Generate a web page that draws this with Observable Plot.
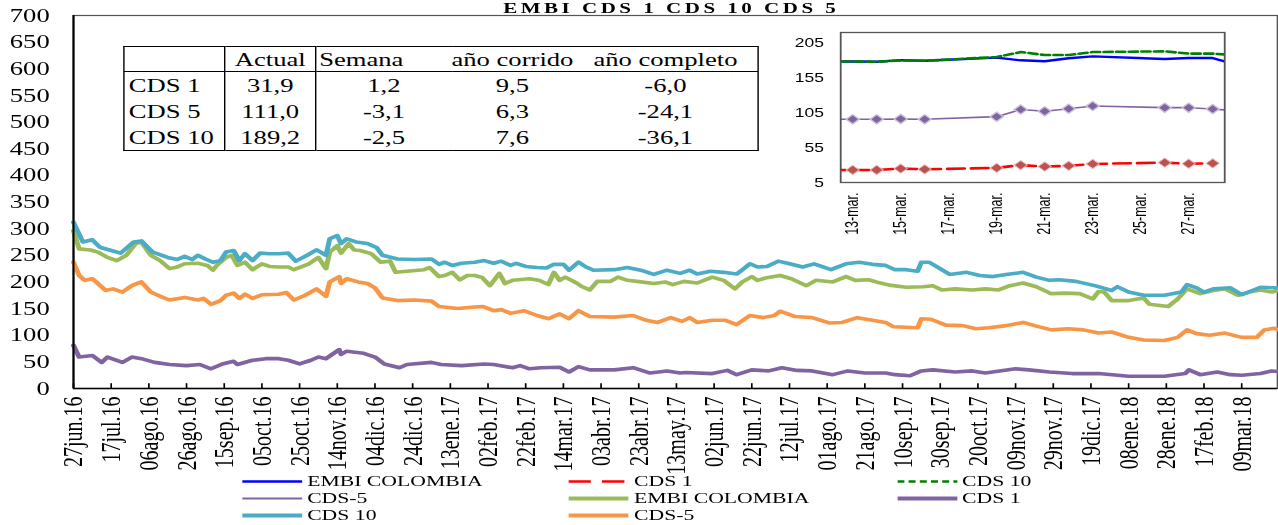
<!DOCTYPE html>
<html><head><meta charset="utf-8">
<script src="https://cdn.jsdelivr.net/npm/d3@7"></script>
<script src="https://cdn.jsdelivr.net/npm/@observablehq/plot@0.6"></script>
<style>
html,body{margin:0;padding:0;background:#fff;overflow:hidden;}
#stage{position:relative;width:913px;height:525px;transform:scaleX(1.4);transform-origin:0 0;font-family:"Liberation Serif","Times New Roman",serif;color:#000;}
#main{position:absolute;left:0;top:0;}
#title{position:absolute;left:0;width:959px;top:1px;text-align:center;font-weight:bold;font-size:15px;line-height:15px;letter-spacing:2.5px;white-space:nowrap;}
#tbl{position:absolute;left:88px;top:46px;border-collapse:collapse;table-layout:fixed;font-size:19px;background:#fff;border:1.5px solid #000;}
#tbl td{padding:0;height:26px;line-height:19px;white-space:nowrap;text-align:center;}
#tbl tr.h td{height:24px;border-bottom:1.5px solid #000;}
#tbl td.c1{text-align:left;padding-left:3px;border-right:1.5px solid #000;}
#tbl td.c2{border-right:1.5px solid #000;}
#tbl td.sem{text-align:left;padding-left:2px;}
#inset{position:absolute;left:565px;top:22px;background:#fff;}
#legend{position:absolute;left:0;top:470px;width:913px;height:55px;font-size:15.5px;}
.li{position:absolute;height:17px;display:flex;align-items:center;white-space:nowrap;}
.li svg{display:block;}
</style>
</head><body>
<div id="stage">
  <div id="main"></div>
  <div id="title"></div>
  <table id="tbl"></table>
  <div id="inset"></div>
  <div id="legend"></div>
</div>
<script>
// ---------------- DATA ----------------
const titleText = "EMBI CDS 1 CDS 10 CDS 5";

// main chart: [days since 27-jun-2016, value]
const embiMain = [[0,296],[3,262],[9,260],[13,256],[18,246],[23,240],[28,250],[33,272],[36,275],[41,250],[46,240],[51,225],[55,228],[59,234],[66,235],[71,231],[74,222],[76,231],[81,246],[84,250],[87,231],[91,237],[95,223],[100,234],[104,229],[109,228],[114,228],[117,223],[125,234],[130,246],[134,225],[136,256],[140,268],[142,254],[146,272],[149,260],[152,259],[158,253],[163,237],[168,239],[171,218],[177,220],[186,223],[189,227],[194,210],[197,212],[201,218],[205,204],[209,212],[213,212],[217,208],[221,193],[226,216],[229,197],[233,203],[242,206],[247,203],[252,195],[255,218],[258,203],[261,209],[267,198],[270,191],[274,185],[278,201],[285,201],[289,209],[294,203],[299,201],[308,197],[314,200],[318,195],[324,201],[331,198],[339,209],[345,203],[351,187],[355,200],[360,210],[363,203],[368,208],[375,212],[381,206],[389,193],[394,203],[403,200],[410,210],[415,203],[422,204],[426,200],[433,194],[442,190],[451,191],[456,193],[461,185],[468,187],[477,185],[484,187],[491,185],[497,193],[504,198],[511,191],[519,178],[526,179],[534,178],[541,168],[544,182],[547,181],[551,165],[560,165],[568,170],[571,158],[581,154],[586,168],[591,187],[598,178],[605,184],[611,187],[618,175],[624,181],[630,185],[636,181],[639,184]];
const cds1Main = [[0,81],[3,59],[10,62],[15,49],[18,59],[26,49],[31,59],[36,56],[43,49],[51,45],[60,43],[67,45],[73,37],[79,46],[85,51],[87,45],[95,53],[102,56],[109,56],[114,53],[120,46],[126,53],[130,59],[134,56],[141,73],[142,64],[145,70],[154,66],[160,59],[165,46],[173,39],[177,45],[190,49],[195,45],[206,43],[218,46],[223,45],[233,39],[237,43],[242,37],[248,39],[258,40],[263,31],[268,41],[274,35],[287,35],[297,39],[306,29],[315,33],[322,29],[325,30],[339,28],[347,34],[352,26],[360,35],[369,33],[376,39],[384,34],[392,33],[403,26],[411,33],[420,29],[431,29],[436,26],[444,24],[450,33],[456,35],[468,31],[477,33],[484,29],[500,37],[507,35],[518,31],[530,28],[544,28],[560,23],[579,23],[590,28],[592,35],[598,26],[607,31],[614,26],[620,25],[630,28],[636,33],[639,32]];
const cds10Main = [[0,312],[5,275],[10,279],[14,265],[20,259],[25,254],[32,275],[36,277],[42,256],[50,246],[55,242],[59,248],[63,242],[66,250],[70,243],[74,237],[78,240],[81,256],[85,259],[88,240],[91,253],[95,240],[99,254],[104,253],[109,253],[114,254],[118,239],[124,250],[129,260],[134,250],[136,281],[140,287],[142,272],[145,281],[150,275],[156,272],[161,264],[164,250],[172,243],[181,242],[190,243],[194,233],[197,237],[201,231],[206,235],[213,237],[218,240],[223,235],[227,239],[232,231],[235,235],[240,229],[246,227],[251,226],[255,233],[260,233],[263,222],[268,237],[272,228],[276,222],[287,223],[294,227],[301,222],[308,214],[315,222],[322,216],[327,222],[331,215],[338,220],[345,218],[352,215],[355,223],[359,234],[363,228],[368,229],[374,239],[379,235],[387,228],[393,234],[397,229],[402,223],[410,234],[417,237],[424,233],[431,231],[436,223],[442,223],[448,220],[450,237],[454,237],[459,227],[465,214],[474,218],[481,212],[488,210],[495,214],[504,218],[511,209],[518,203],[523,204],[532,201],[542,193],[551,184],[554,191],[560,181],[568,175],[579,175],[588,181],[591,195],[596,189],[600,181],[605,187],[614,189],[620,176],[630,190],[636,189],[639,189.2]];
const cds5Main = [[0,237],[3,212],[6,203],[10,206],[13,197],[17,184],[21,187],[26,181],[31,193],[36,200],[41,181],[46,173],[51,166],[59,171],[66,166],[69,169],[73,158],[78,165],[81,175],[85,179],[88,169],[91,177],[95,169],[100,176],[109,177],[113,180],[117,166],[123,175],[129,187],[134,173],[136,200],[141,210],[142,197],[145,206],[151,200],[156,197],[160,189],[164,170],[172,165],[181,166],[190,164],[194,154],[204,150],[213,153],[217,154],[223,146],[227,148],[232,141],[239,146],[246,137],[252,131],[258,140],[263,131],[268,146],[274,135],[287,134],[297,137],[304,128],[310,124],[317,133],[323,126],[327,133],[331,124],[339,128],[346,128],[352,120],[359,137],[366,133],[372,137],[375,145],[383,135],[392,133],[401,123],[408,124],[416,133],[424,128],[431,124],[435,116],[448,114],[450,131],[455,130],[463,119],[472,118],[479,112],[486,114],[495,118],[504,124],[511,117],[519,110],[528,112],[536,110],[544,104],[551,106],[560,96],[568,91],[579,90],[586,96],[591,110],[596,103],[603,100],[611,104],[620,96],[628,96],[632,110],[637,113],[639,111]];

const xTickDates = ["2016-06-27","2016-07-17","2016-08-06","2016-08-26","2016-09-15","2016-10-05","2016-10-25","2016-11-14","2016-12-04","2016-12-24","2017-01-13","2017-02-02","2017-02-22","2017-03-14","2017-04-03","2017-04-23","2017-05-13","2017-06-02","2017-06-22","2017-07-12","2017-08-01","2017-08-21","2017-09-10","2017-09-30","2017-10-20","2017-11-09","2017-11-29","2017-12-19","2018-01-08","2018-01-28","2018-02-17","2018-03-09"];
const xTickLabels = ["27jun.16","17jul.16","06ago.16","26ago.16","15sep.16","05oct.16","25oct.16","14nov.16","04dic.16","24dic.16","13ene.17","02feb.17","22feb.17","14mar.17","03abr.17","23abr.17","13may.17","02jun.17","22jun.17","12jul.17","01ago.17","21ago.17","10sep.17","30sep.17","20oct.17","09nov.17","29nov.17","19dic.17","08ene.18","28ene.18","17feb.18","09mar.18"];
const yTicks = [0,50,100,150,200,250,300,350,400,450,500,550,600,650,700];

// inset chart
const insetDates = ["2018-03-12","2018-03-13","2018-03-14","2018-03-15","2018-03-16","2018-03-19","2018-03-20","2018-03-21","2018-03-22","2018-03-23","2018-03-26","2018-03-27","2018-03-28","2018-03-29"];
const insetEmbi  = [179,179,178.6,181,180,184.5,180.7,179.3,183.6,186.4,182.6,184,184,174];
const insetCds10 = [179,179,178.6,180.5,180,185.5,192.6,188.3,188.3,192.6,193.6,190.3,190.3,188];
const insetCds5  = [96,96,96,96.4,96,99.7,110,107.4,111,115,112.6,112.6,110.7,108];
const insetCds1  = [23,23,23,25,24,26,30,28,29,31.7,33.6,32,32.6,null];
const insetTickDates  = ["2018-03-13","2018-03-15","2018-03-17","2018-03-19","2018-03-21","2018-03-23","2018-03-25","2018-03-27"];
const insetTickLabels = ["13-mar.","15-mar.","17-mar.","19-mar.","21-mar.","23-mar.","25-mar.","27-mar."];
const insetYTicks = [5,55,105,155,205];

// table
const tableHeader = ["", "Actual", "Semana", "año corrido", "año completo"];
const tableRows = ["CDS 1", "CDS 5", "CDS 10"];
const tableActual = ["31,9", "111,0", "189,2"];
const tableSemana = ["1,2", "-3,1", "-2,5"];
const tableCorrido = ["9,5", "6,3", "7,6"];
const tableCompleto = ["-6,0", "-24,1", "-36,1"];

// legend
const legendNames = ["EMBI COLOMBIA", "CDS 1", "CDS 10", "CDS-5", "EMBI COLOMBIA", "CDS 1", "CDS 10", "CDS-5"];

// ---------------- STYLES ----------------
const C = {teal:"#4BACC6", olive:"#9BBB59", orange:"#F79646", purple:"#8064A2", blue:"#0000FF", red:"#FF0000", green:"#008000", darkred:"#C0504D"};
const legendStyles = [
  {color:C.blue, w:2.5}, {color:C.red, w:2.5, dash:"16,8"}, {color:C.green, w:2.5, dash:"5,3"},
  {color:C.purple, w:2}, {color:C.olive, w:4}, {color:C.purple, w:4}, {color:C.teal, w:4}, {color:C.orange, w:4}
];

// ---------------- BUILD ----------------
document.getElementById("title").textContent = titleText;

const t0 = Date.UTC(2016,5,27), DAY = 864e5;
const mk = (name, pairs) => pairs.map(([d,v]) => ({name, date:new Date(t0 + d*DAY), value:v}));
const xTicks = xTickDates.map(s => new Date(s));
const labelOf = new Map(xTicks.map((d,i) => [+d, xTickLabels[i]]));
const xStart = new Date(t0), xEnd = new Date(Date.UTC(2018,2,28));

const mainPlot = Plot.plot({
  width: 913, height: 470,
  marginLeft: 52, marginRight: 1, marginTop: 15, marginBottom: 82,
  style: {fontFamily: "'Liberation Serif', serif", fontSize: "19px", color: "#000", background: "transparent", overflow: "visible"},
  x: {type: "utc", domain: [xStart, xEnd]},
  y: {domain: [0, 700]},
  marks: [
    Plot.frame({stroke: "#555", strokeWidth: 1.2}),
    Plot.line(mk("EMBI COLOMBIA", embiMain), {x:"date", y:"value", stroke:C.olive, strokeWidth:3.6}),
    Plot.line(mk("CDS 1", cds1Main), {x:"date", y:"value", stroke:C.purple, strokeWidth:3.6}),
    Plot.line(mk("CDS 10", cds10Main), {x:"date", y:"value", stroke:C.teal, strokeWidth:3.6}),
    Plot.line(mk("CDS-5", cds5Main), {x:"date", y:"value", stroke:C.orange, strokeWidth:3.6}),
    Plot.ruleY([0], {stroke:"#000", strokeWidth:1.5}),
    Plot.ruleX([xStart], {stroke:"#000", strokeWidth:1.5}),
    Plot.ruleX(xTicks, {x: d => d, y1: 0, y2: 9, stroke:"#000", strokeWidth:1.2}),
    Plot.axisY(yTicks, {tickSize: 0, tickPadding: 17, label: null, fontSize: 19}),
    Plot.axisX(xTicks, {tickSize: 0, tickPadding: 8, tickRotate: -90, label: null, fontSize: 20, tickFormat: d => labelOf.get(+d)})
  ]
});
document.getElementById("main").appendChild(mainPlot);

// table
const tbl = document.getElementById("tbl");
const colW = [72, 65, 97, 76, 132];
const cg = document.createElement("colgroup");
colW.forEach(w => { const c = document.createElement("col"); c.style.width = w + "px"; cg.appendChild(c); });
tbl.appendChild(cg);
const hr = document.createElement("tr"); hr.className = "h";
tableHeader.forEach((t,i) => { const td = document.createElement("td"); td.textContent = t; if (i===0) td.className="c1"; if (i===1) td.className="c2"; if (i===2) td.className="sem"; hr.appendChild(td); });
tbl.appendChild(hr);
tableRows.forEach((r,i) => {
  const tr = document.createElement("tr");
  [r, tableActual[i], tableSemana[i], tableCorrido[i], tableCompleto[i]].forEach((t,j) => {
    const td = document.createElement("td"); td.textContent = t;
    if (j===0) td.className="c1"; if (j===1) td.className="c2";
    tr.appendChild(td);
  });
  tbl.appendChild(tr);
});

// inset
const iDates = insetDates.map(s => new Date(s));
const iSeries = (vals) => iDates.map((d,i) => ({date:d, value:vals[i]}));
const iTicks = insetTickDates.map(s => new Date(s));
const iLabel = new Map(iTicks.map((d,i) => [+d, insetTickLabels[i]]));
const insetPlot = Plot.plot({
  width: 320, height: 220,
  marginLeft: 35, marginRight: 10.7, marginTop: 10, marginBottom: 60,
  style: {fontFamily: "'Liberation Sans', Arial, sans-serif", fontSize: "12.5px", color:"#000", background: "#fff"},
  x: {type: "utc", domain: [new Date(Date.UTC(2018,2,12,12)), new Date(Date.UTC(2018,2,28,12))]},
  y: {domain: [5, 220.7]},
  marks: [
    Plot.line(iSeries(insetCds5), {x:"date", y:"value", stroke:C.purple, strokeWidth:1.6, clip:true}),
    Plot.dot(iSeries(insetCds5), {x:"date", y:"value", symbol:"diamond2", r:4.2, fill:C.purple, stroke:"#CCC0DA", strokeWidth:1.2, clip:true}),
    Plot.line(iSeries(insetCds1), {x:"date", y:"value", stroke:C.red, strokeWidth:2.6, strokeDasharray:"12,5", clip:true}),
    Plot.dot(iSeries(insetCds1), {x:"date", y:"value", symbol:"diamond2", r:4.2, fill:C.darkred, stroke:"#E6B9B8", strokeWidth:0.8, clip:true}),
    Plot.line(iSeries(insetEmbi), {x:"date", y:"value", stroke:C.blue, strokeWidth:2.4, clip:true}),
    Plot.line(iSeries(insetCds10), {x:"date", y:"value", stroke:C.green, strokeWidth:2.6, strokeDasharray:"6,3", clip:true}),
    Plot.frame({stroke:"#555", strokeWidth:1.3}),
    Plot.axisY(insetYTicks, {tickSize:0, tickPadding:12, label:null}),
    Plot.axisX(iTicks, {tickSize:0, tickPadding:10, tickRotate:-90, label:null, tickFormat: d => iLabel.get(+d)})
  ]
});
document.getElementById("inset").appendChild(insetPlot);

// legend
const lg = document.getElementById("legend");
const colLeft = [172.9, 406.4, 640.7];
const rowTop = [2.5, 19.5, 36.5];
legendNames.forEach((name, i) => {
  const s = legendStyles[i];
  const div = document.createElement("div");
  div.className = "li";
  div.style.left = colLeft[i % 3] + "px";
  div.style.top = rowTop[Math.floor(i / 3)] + "px";
  const svg = d3.create("svg").attr("width", 43).attr("height", 17);
  svg.append("line").attr("x1", 0).attr("x2", 43).attr("y1", 8.5).attr("y2", 8.5)
    .attr("stroke", s.color).attr("stroke-width", s.w).attr("stroke-dasharray", s.dash || null);
  div.appendChild(svg.node());
  const sp = document.createElement("span");
  sp.style.marginLeft = "3.5px";
  sp.textContent = name;
  div.appendChild(sp);
  lg.appendChild(div);
});
</script>
</body></html>
